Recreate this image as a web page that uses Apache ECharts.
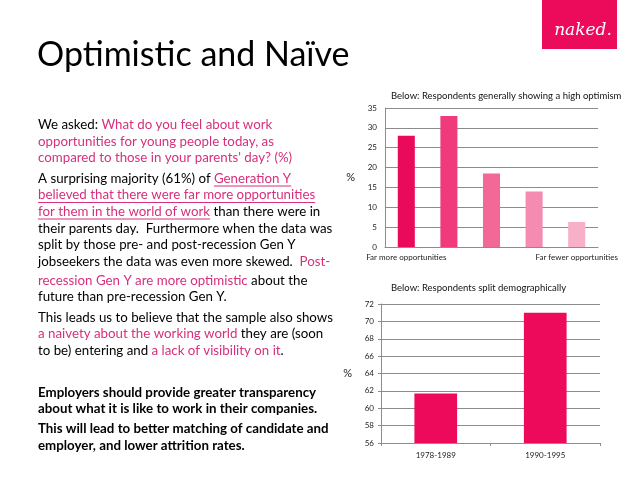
<!DOCTYPE html>
<html><head><meta charset="utf-8">
<script src="https://cdn.jsdelivr.net/npm/echarts@6/dist/echarts.min.js"></script>
<style>html,body{margin:0;padding:0;background:#fff}#c{width:638px;height:479px}</style>
</head><body><div id="c"></div>
<script>
// ---- data ----
const optCategories = ['Far more opportunities', '', '', '', 'Far fewer opportunities'];
const optValues = [28, 33, 18.5, 14, 6.3];
const optColors = ['#EA0A5B', '#F03A7B', '#F26897', '#F58BB0', '#F8AFC8'];
const optTicks = [0, 5, 10, 15, 20, 25, 30, 35];
const demoCategories = ['1978-1989', '1990-1995'];
const demoValues = [61.7, 71];
const demoTicks = [56, 58, 60, 62, 64, 66, 68, 70, 72];
const slideTitle = 'Optimistic and Naïve';
const chart1Title = 'Below: Respondents generally showing a high optimism';
const chart2Title = 'Below: Respondents split demographically';
// body text: [segments], kinds: n normal, p pink, u pink underlined, b bold
const bodyLines = [
  [['n', 'We asked: '], ['p', 'What do you feel about work']],
  [['p', 'opportunities for young people today, as']],
  [['p', "compared to those in your parents' day? (%)"]],
  [['n', 'A surprising majority (61%) of '], ['u', 'Generation Y']],
  [['u', 'believed that there were far more opportunities']],
  [['u', 'for them in the world of work'], ['n', ' than there were in']],
  [['n', 'their parents day.  Furthermore when the data was']],
  [['n', 'split by those pre- and post-recession Gen Y']],
  [['n', 'jobseekers the data was even more skewed.  '], ['p', 'Post-']],
  [['p', 'recession Gen Y are more optimistic'], ['n', ' about the']],
  [['n', 'future than pre-recession Gen Y.']],
  [['n', 'This leads us to believe that the sample also shows']],
  [['p', 'a naivety about the working world'], ['n', ' they are (soon']],
  [['n', 'to be) entering and '], ['p', 'a lack of visibility on it'], ['n', '.']],
  [['b', 'Employers should provide greater transparency']],
  [['b', 'about what it is like to work in their companies.']],
  [['b', 'This will lead to better matching of candidate and']],
  [['b', 'employer, and lower attrition rates.']]
];
const bodyLineY = [125, 141.5, 158, 178.5, 195, 211.5, 228.5, 245, 262, 280.5, 297, 317.5, 334, 350.5, 392.5, 409, 429, 445.5];

// ---- layout ----
const FONT = 'Lato';
const BODY_SIZE = 13.3;
const PINK = '#D6307C';
const chart = echarts.init(document.getElementById('c'), null, {renderer: 'canvas'});
const mctx = document.createElement('canvas').getContext('2d');
function fontStr(kind) { return (kind === 'b' ? 'bold ' : '') + BODY_SIZE + 'px ' + FONT; }
function measure(t, kind) { mctx.font = fontStr(kind); return mctx.measureText(t).width; }

const graphics = [];
graphics.push({type: 'rect', shape: {x: 542, y: 0, width: 75, height: 49}, style: {fill: '#EC0B5A'}});
graphics.push({type: 'text', style: {text: 'naked.', x: 583, y: 31, align: 'center', verticalAlign: 'middle', font: 'italic 17px "DejaVu Serif"', fill: '#fff'}});
graphics.push({type: 'text', style: {text: slideTitle, x: 37, y: 55, align: 'left', verticalAlign: 'middle', font: '34px ' + FONT, fill: '#000'}});

bodyLines.forEach((segs, i) => {
  let x = 38;
  const y = bodyLineY[i];
  segs.forEach(([kind, t]) => {
    const w = measure(t, kind);
    graphics.push({type: 'text', style: {text: t, x: x, y: y, align: 'left', verticalAlign: 'middle', font: fontStr(kind), fill: (kind === 'p' || kind === 'u') ? PINK : '#000'}});
    if (kind === 'u') {
      graphics.push({type: 'line', shape: {x1: x, y1: y + 7.5, x2: x + w, y2: y + 7.5}, style: {stroke: PINK, lineWidth: 1}});
    }
    x += w;
  });
});

const gridColor = '#8c8c8c';
const labelStyle = {color: '#222', fontSize: 8, fontFamily: FONT};

const option = {
  backgroundColor: '#fff',
  animation: false,
  title: [
    {text: chart1Title, left: 386, top: 86, textStyle: {fontSize: 9.5, fontWeight: 'normal', color: '#111', fontFamily: FONT}},
    {text: chart2Title, left: 386, top: 278, textStyle: {fontSize: 9.5, fontWeight: 'normal', color: '#111', fontFamily: FONT}}
  ],
  grid: [
    {left: 385, top: 108, right: 40, bottom: 232},
    {left: 381, top: 304, right: 38, bottom: 36}
  ],
  xAxis: [
    {type: 'category', gridIndex: 0, data: optCategories,
     axisLine: {lineStyle: {color: gridColor}}, axisTick: {show: false},
     axisLabel: Object.assign({interval: 0, hideOverlap: false, margin: 6}, labelStyle)},
    {type: 'category', gridIndex: 1, data: demoCategories,
     axisLine: {lineStyle: {color: gridColor}}, axisTick: {show: true, length: 3, lineStyle: {color: gridColor}},
     axisLabel: Object.assign({interval: 0, margin: 8}, labelStyle)}
  ],
  yAxis: [
    {type: 'value', gridIndex: 0, min: optTicks[0], max: optTicks[optTicks.length - 1], interval: optTicks[1] - optTicks[0],
     name: '%', nameLocation: 'middle', nameGap: 30, nameRotate: 0, nameTextStyle: {fontSize: 11, color: '#222', fontFamily: FONT},
     axisLine: {show: true, lineStyle: {color: gridColor}}, axisTick: {show: false},
     splitLine: {lineStyle: {color: gridColor}}, axisLabel: Object.assign({margin: 8}, labelStyle)},
    {type: 'value', gridIndex: 1, min: demoTicks[0], max: demoTicks[demoTicks.length - 1], interval: demoTicks[1] - demoTicks[0],
     name: '%', nameLocation: 'middle', nameGap: 29, nameRotate: 0, nameTextStyle: {fontSize: 11, color: '#222', fontFamily: FONT},
     axisLine: {show: true, lineStyle: {color: gridColor}}, axisTick: {show: true, length: 3, lineStyle: {color: gridColor}},
     splitLine: {lineStyle: {color: gridColor}}, axisLabel: Object.assign({margin: 7}, labelStyle)}
  ],
  series: [
    {type: 'bar', xAxisIndex: 0, yAxisIndex: 0, barWidth: '40%',
     data: optValues.map((v, i) => ({value: v, itemStyle: {color: optColors[i]}}))},
    {type: 'bar', xAxisIndex: 1, yAxisIndex: 1, barWidth: '39%',
     itemStyle: {color: '#EE0A5A'}, data: demoValues}
  ],
  graphic: graphics
};
chart.setOption(option);
</script>
</body></html>
